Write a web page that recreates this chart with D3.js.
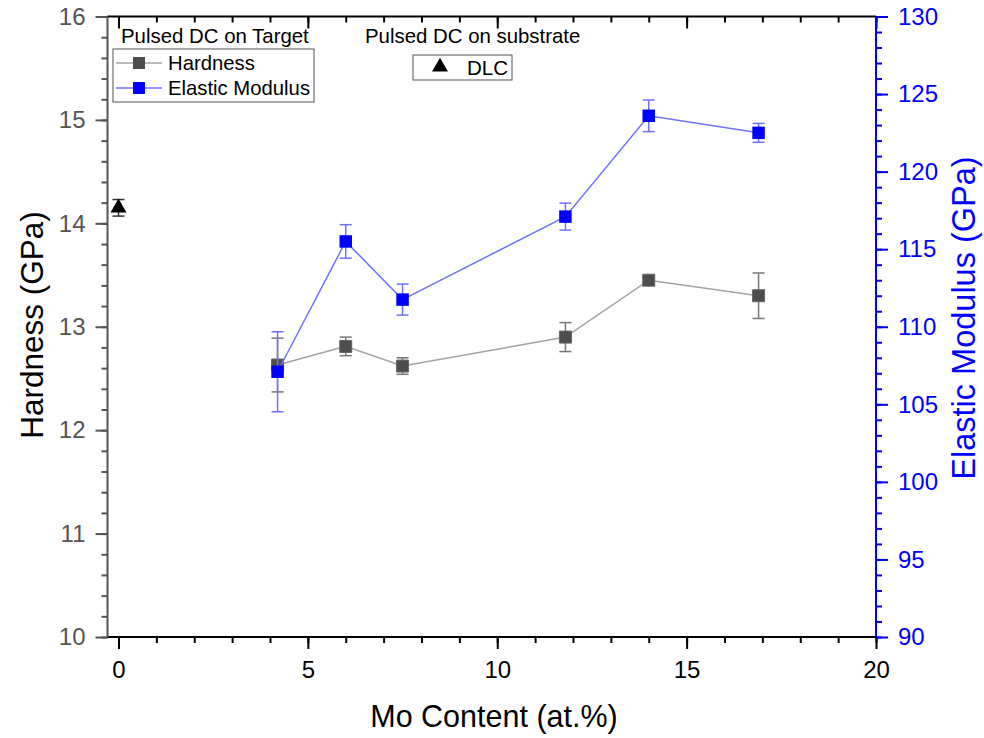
<!DOCTYPE html>
<html>
<head>
<meta charset="utf-8">
<script src="https://cdn.jsdelivr.net/npm/d3@7"></script>
<style>
  body { margin: 0; background: #fff; }
  svg { font-family: "Liberation Sans", Arial, sans-serif; }
</style>
</head>
<body>
<div id="chart"></div>
<script>
// Data
const moContent = [4.2, 6.0, 7.5, 11.8, 14.0, 16.9];
const hardness = [12.63, 12.81, 12.62, 12.90, 13.45, 13.30];
const hardnessErr = [0.26, 0.09, 0.08, 0.14, 0.03, 0.22];
const modulus = [107.1, 115.5, 111.75, 117.1, 123.6, 122.5];
const modulusErr = [2.58, 1.08, 1.0, 0.87, 1.02, 0.61];
const dlcContent = [0];
const dlcHardness = [14.15];
const dlcErr = [0.08];

const xTicks = [0, 5, 10, 15, 20];
const hTicks = [10, 11, 12, 13, 14, 15, 16];
const eTicks = [90, 95, 100, 105, 110, 115, 120, 125, 130];

const width = 984;
const height = 738;
const margin = { top: 16.5, right: 108, bottom: 101, left: 107.5 };

const blue = '#0000ff';
const blueLine = '#7171ff';
const grayMark = '#4d4d4d';
const grayLine = '#a3a3a3';

const x = d3.scaleLinear()
  .domain([-0.29, 20])
  .range([margin.left, width - margin.right]);

const yH = d3.scaleLinear()
  .domain([10, 16])
  .range([height - margin.bottom, margin.top]);

const yE = d3.scaleLinear()
  .domain([90, 130])
  .range([height - margin.bottom, margin.top]);

const svg = d3.select('#chart')
  .append('svg')
  .attr('width', width)
  .attr('height', height);

const x0 = margin.left, x1 = width - margin.right;
const y0 = height - margin.bottom, y1 = margin.top;

// minor tick helper
function range(a, b, step) {
  const out = [];
  for (let v = a; v <= b + 1e-9; v += step) out.push(+v.toFixed(4));
  return out;
}

// bottom axis
const bottomAxis = svg.append('g').attr('transform', `translate(0,${y0})`);
bottomAxis.call(d3.axisBottom(x).tickValues(range(0, 20, 1)).tickSize(6).tickFormat(''));
bottomAxis.append('g').call(d3.axisBottom(x).tickValues(xTicks).tickSize(12).tickPadding(12)
  .tickFormat(d3.format('d')));
bottomAxis.selectAll('.domain').remove();
bottomAxis.selectAll('line').attr('stroke', '#000').attr('stroke-width', 2);
bottomAxis.selectAll('text').attr('font-size', 24).attr('fill', '#000');

// top axis (ticks inward)
const topAxis = svg.append('g').attr('transform', `translate(0,${y1})`);
topAxis.call(d3.axisBottom(x).tickValues(range(0, 20, 1)).tickSize(6).tickFormat(''));
topAxis.append('g').call(d3.axisBottom(x).tickValues(xTicks).tickSize(12).tickFormat(''));
topAxis.selectAll('.domain').remove();
topAxis.selectAll('line').attr('stroke', '#000').attr('stroke-width', 2);

// left axis
const leftAxis = svg.append('g').attr('transform', `translate(${x0},0)`);
leftAxis.call(d3.axisLeft(yH).tickValues(range(10, 16, 0.2)).tickSize(6).tickFormat(''));
leftAxis.append('g').call(d3.axisLeft(yH).tickValues(hTicks).tickSize(12).tickPadding(10)
  .tickFormat(d3.format('d')));
leftAxis.selectAll('.domain').remove();
leftAxis.selectAll('line').attr('stroke', '#555').attr('stroke-width', 2);
leftAxis.selectAll('text').attr('font-size', 24).attr('fill', '#555');

// right axis
const rightAxis = svg.append('g').attr('transform', `translate(${x1},0)`);
rightAxis.call(d3.axisRight(yE).tickValues(range(90, 130, 1)).tickSize(6).tickFormat(''));
rightAxis.append('g').call(d3.axisRight(yE).tickValues(eTicks).tickSize(12).tickPadding(10)
  .tickFormat(d3.format('d')));
rightAxis.selectAll('.domain').remove();
rightAxis.selectAll('line').attr('stroke', blue).attr('stroke-width', 2);
rightAxis.selectAll('text').attr('font-size', 24).attr('fill', blue);

// frame lines
svg.append('line').attr('x1', x0).attr('x2', x1).attr('y1', y0).attr('y2', y0)
  .attr('stroke', '#000').attr('stroke-width', 2);
svg.append('line').attr('x1', x0).attr('x2', x1).attr('y1', y1).attr('y2', y1)
  .attr('stroke', '#000').attr('stroke-width', 2);
svg.append('line').attr('x1', x0).attr('x2', x0).attr('y1', y0).attr('y2', y1)
  .attr('stroke', '#555').attr('stroke-width', 2);
svg.append('line').attr('x1', x1).attr('x2', x1).attr('y1', y0).attr('y2', y1)
  .attr('stroke', blue).attr('stroke-width', 2);

// axis titles
svg.append('text')
  .attr('x', 494).attr('y', 727)
  .attr('text-anchor', 'middle').attr('font-size', 30.5).attr('fill', '#000')
  .text('Mo Content (at.%)');

svg.append('text')
  .attr('transform', 'translate(43,325) rotate(-90)')
  .attr('text-anchor', 'middle').attr('font-size', 31.5).attr('fill', '#000')
  .text('Hardness (GPa)');

svg.append('text')
  .attr('transform', 'translate(975,318) rotate(-90)')
  .attr('text-anchor', 'middle').attr('font-size', 32.5).attr('fill', blue)
  .text('Elastic Modulus (GPa)');

// series helper
function drawSeries(xs, ys, errs, yScale, opt) {
  const g = svg.append('g');
  const pts = xs.map((d, i) => ({ x: d, y: ys[i], e: errs[i] }));
  if (opt.line) {
    g.append('path')
      .datum(pts)
      .attr('fill', 'none')
      .attr('stroke', opt.line)
      .attr('stroke-width', 1.5)
      .attr('d', d3.line().x(d => x(d.x)).y(d => yScale(d.y)));
  }
  const eb = g.selectAll('.eb').data(pts).enter().append('g')
    .attr('stroke', opt.err).attr('stroke-width', 1.5);
  eb.append('line')
    .attr('x1', d => x(d.x)).attr('x2', d => x(d.x))
    .attr('y1', d => yScale(d.y - d.e)).attr('y2', d => yScale(d.y + d.e));
  eb.append('line')
    .attr('x1', d => x(d.x) - 6).attr('x2', d => x(d.x) + 6)
    .attr('y1', d => yScale(d.y - d.e)).attr('y2', d => yScale(d.y - d.e));
  eb.append('line')
    .attr('x1', d => x(d.x) - 6).attr('x2', d => x(d.x) + 6)
    .attr('y1', d => yScale(d.y + d.e)).attr('y2', d => yScale(d.y + d.e));
  g.selectAll('.mk').data(pts).enter().append('path')
    .attr('transform', d => `translate(${x(d.x)},${yScale(d.y)})`)
    .attr('d', d3.symbol().type(opt.symbol).size(opt.size))
    .attr('fill', opt.fill)
    .attr('stroke', opt.stroke || 'none')
    .attr('stroke-width', 1);
}

drawSeries(moContent, hardness, hardnessErr, yH,
  { line: grayLine, err: '#777', symbol: d3.symbolSquare, size: 144, fill: grayMark, stroke: '#666' });
drawSeries(moContent, modulus, modulusErr, yE,
  { line: blueLine, err: blueLine, symbol: d3.symbolSquare, size: 156, fill: blue });
drawSeries(dlcContent, dlcHardness, dlcErr, yH,
  { line: null, err: '#333', symbol: d3.symbolTriangle, size: 110, fill: '#000' });

// legend: Pulsed DC on Target
svg.append('text').attr('x', 121).attr('y', 43).attr('font-size', 20.4).attr('fill', '#000')
  .text('Pulsed DC on Target');
svg.append('rect').attr('x', 113).attr('y', 49).attr('width', 201).attr('height', 53)
  .attr('fill', '#fff').attr('stroke', '#555').attr('stroke-width', 1);

const legItems = [
  { name: 'Hardness', line: grayLine, fill: grayMark, y: 63 },
  { name: 'Elastic Modulus', line: blueLine, fill: blue, y: 88 }
];
legItems.forEach(d => {
  svg.append('line').attr('x1', 116).attr('x2', 162).attr('y1', d.y).attr('y2', d.y)
    .attr('stroke', d.line).attr('stroke-width', 1.5);
  svg.append('rect').attr('x', 133).attr('y', d.y - 6).attr('width', 12).attr('height', 12)
    .attr('fill', d.fill);
  svg.append('text').attr('x', 168).attr('y', d.y + 7).attr('font-size', 20.3).attr('fill', '#000')
    .text(d.name);
});

// legend: Pulsed DC on substrate
svg.append('text').attr('x', 365).attr('y', 43).attr('font-size', 20.4).attr('fill', '#000')
  .text('Pulsed DC on substrate');
svg.append('rect').attr('x', 413).attr('y', 55).attr('width', 99).attr('height', 25)
  .attr('fill', '#fff').attr('stroke', '#555').attr('stroke-width', 1);
svg.append('path')
  .attr('transform', 'translate(440,67)')
  .attr('d', d3.symbol().type(d3.symbolTriangle).size(110))
  .attr('fill', '#000');
svg.append('text').attr('x', 467).attr('y', 75).attr('font-size', 20.5).attr('fill', '#000')
  .text('DLC');
</script>
</body>
</html>
